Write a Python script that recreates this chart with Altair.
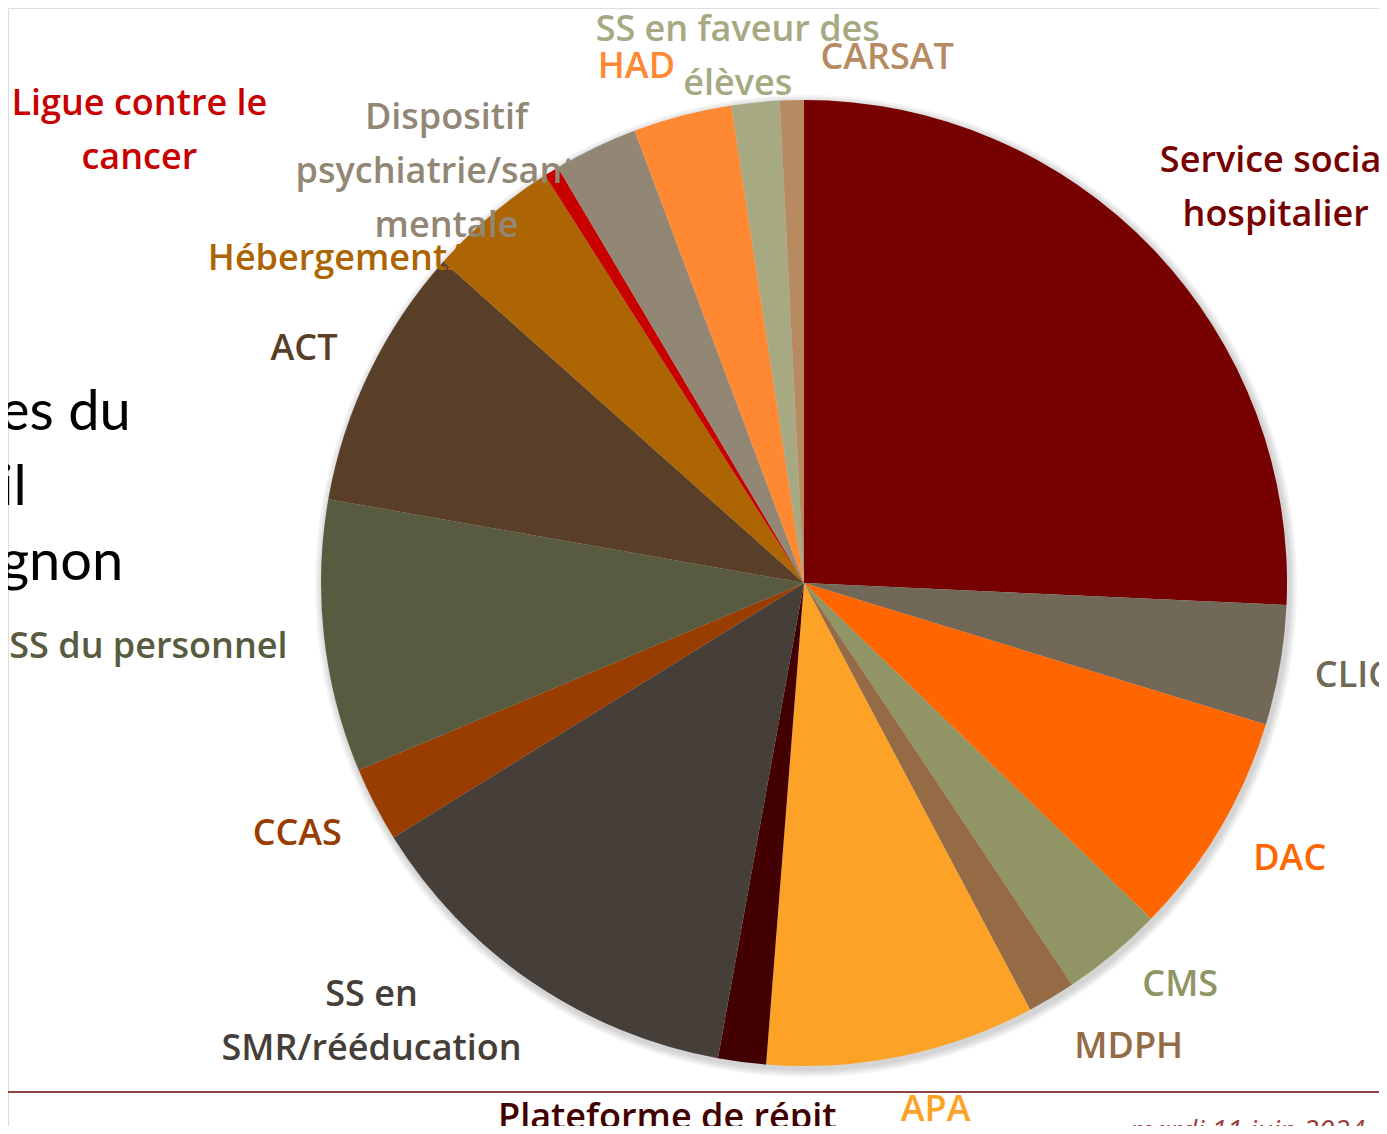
import altair as alt
import pandas as pd

# ---- data -------------------------------------------------------------
categories = [
    "Service social hospitalier", "CLIC", "DAC", "CMS", "MDPH", "APA",
    "Plateforme de répit", "SS en SMR/rééducation", "CCAS", "SS du personnel",
    "ACT", "Hébergement/", "Ligue contre le cancer",
    "Dispositif psychiatrie/santé mentale", "HAD", "SS en faveur des élèves",
    "CARSAT",
]
values = [25.7, 4.0, 7.5, 3.4, 1.6, 9.0, 1.6, 13.3, 2.5, 9.1, 8.8, 4.4, 0.5,
          2.8, 3.3, 1.6, 0.8]
label_texts = [
    "Service social\nhospitalier", "CLIC", "DAC", "CMS", "MDPH", "APA",
    "Plateforme de répit", "SS en\nSMR/rééducation", "CCAS", "SS du personnel",
    "ACT", "Hébergement/", "Ligue contre le\ncancer",
    "Dispositif\npsychiatrie/santé\nmentale", "HAD", "SS en faveur des\nélèves",
    "CARSAT",
]
title_fragments = ["es du", "il", "gnon"]
date_text = "mardi 11 juin 2024"

# ---- styles -----------------------------------------------------------
colors = [
    "#770000", "#716858", "#FF6600", "#919464", "#946B45", "#FCA226",
    "#420000", "#463E38", "#983C00", "#585B3F", "#5A3F28", "#AD6402",
    "#C80000", "#928775", "#FF8833", "#A7A983", "#B88A62",
]

W, H = 1371, 1118
CX, CY, R = 796, 575, 483
LABEL_R = 550
FONT = "Open Sans"

# label nudges (dx, dy, align) relative to the mid-angle position
placement = {
    "Service social hospitalier": (74, -42, "center"),
    "CLIC": (7, -1, "center"),
    "DAC": (12, -3, "center"),
    "CMS": (24, -20, "center"),
    "MDPH": (43, -8, "center"),
    "APA": (20, -12, "center"),
    "Plateforme de répit": (-66, -10, "center"),
    "SS en SMR/rééducation": (-123, -43, "center"),
    "CCAS": (-18, -1, "center"),
    "SS du personnel": (-109, 3, "center"),
    "ACT": (-5, 6, "center"),
    "Hébergement/": (-240, 95, "left"),
    "Ligue contre le cancer": (-377, -10, "center"),
    "Dispositif psychiatrie/santé mentale": (-120, 31, "center"),
    "HAD": (-29, 16, "center"),
    "SS en faveur des élèves": (-11, -6, "center"),
    "CARSAT": (97, 25, "center"),
}

df = pd.DataFrame({
    "cat": categories,
    "value": values,
    "idx": list(range(len(categories))),
    "label": label_texts,
})
TOTAL = float(sum(values))
color_scale = alt.Scale(domain=categories, range=colors)

# ---- labels (drawn over the pie, like the original) -----------------------
label_layers = []
for cat, (dx, dy, align) in placement.items():
    lay = (
        alt.Chart(df)
        .transform_window(cum="sum(value)", sort=[alt.SortField("idx")],
                          frame=[None, 0])
        .transform_calculate(mid="datum.cum - datum.value / 2")
        .transform_filter(alt.datum.cat == cat)
        .mark_text(radius=LABEL_R, dx=dx, dy=dy, align=align,
                   baseline="middle", font=FONT, fontSize=36, fontWeight=600,
                   lineBreak="\n", lineHeight=54)
        .encode(
            theta=alt.Theta("mid:Q", scale=alt.Scale(domain=[0, TOTAL]),
                            stack=None),
            text="label:N",
            color=alt.Color("cat:N", scale=color_scale, legend=None),
            x=alt.value(CX),
            y=alt.value(CY),
        )
    )
    label_layers.append(lay)

dummy = pd.DataFrame({"a": [0]})

# ---- soft shadow --------------------------------------------------------
shadow_layers = [
    alt.Chart(dummy).mark_arc(radius=R + k, theta=0, theta2=6.2832,
                              color="black", opacity=0.045)
    .encode(x=alt.value(CX + 2), y=alt.value(CY + 3))
    for k in [2, 4, 6, 8]
]

# ---- pie ----------------------------------------------------------------
pie = (
    alt.Chart(df)
    .mark_arc(outerRadius=R)
    .encode(
        theta=alt.Theta("value:Q", stack=True, scale=alt.Scale(domain=[0, TOTAL])),
        order=alt.Order("idx:Q"),
        color=alt.Color("cat:N", scale=color_scale, legend=None),
        x=alt.value(CX),
        y=alt.value(CY),
    )
)

# ---- slide decorations ----------------------------------------------
title_layers = [
    alt.Chart(dummy).mark_text(text=t, align="left", baseline="alphabetic",
                               font="Lato", fontSize=56, color="black")
    .encode(x=alt.value(-8), y=alt.value(yy))
    for t, yy in zip(title_fragments, [422, 497, 572])
]

footer_rule = (
    alt.Chart(dummy).mark_rule(color="#8E4343", strokeWidth=2)
    .encode(x=alt.value(-8), x2=alt.value(W + 8), y=alt.value(1084))
)
footer_date = (
    alt.Chart(dummy).mark_text(text=date_text, align="right", baseline="top",
                               font=FONT, fontSize=28, fontStyle="italic",
                               color="#993D3D")
    .encode(x=alt.value(1357), y=alt.value(1110))
)

chart = (
    alt.layer(*shadow_layers, pie, *label_layers, *title_layers,
              footer_rule, footer_date)
    .properties(width=W, height=H, padding=0,
                autosize=alt.AutoSizeParams(type="none"))
    .configure_view(stroke="transparent", strokeWidth=0)
    .configure(background="white")
)

chart.save("out.html", embed_options={"renderer": "svg", "actions": False})
